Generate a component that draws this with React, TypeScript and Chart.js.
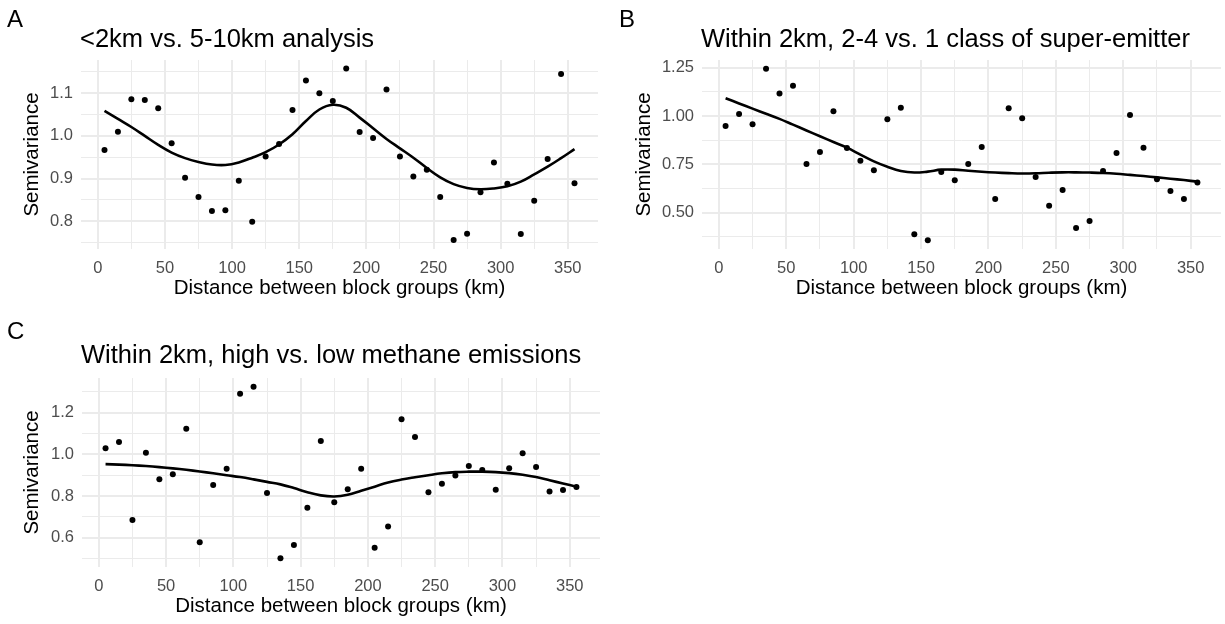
import React, { useEffect, useRef } from "react";
import { Chart, registerables } from "chart.js";

Chart.register(...registerables);

// ---------- data ----------
const distances = [5, 15, 25, 35, 45, 55, 65, 75, 85, 95, 105, 115, 125, 135, 145, 155, 165, 175, 185, 195, 205, 215, 225, 235, 245, 255, 265, 275, 285, 295, 305, 315, 325, 335, 345, 355];

const semivarA = [0.967, 1.010, 1.086, 1.084, 1.065, 0.983, 0.902, 0.857, 0.824, 0.826, 0.895, 0.799, 0.952, 0.981, 1.061, 1.130, 1.100, 1.082, 1.158, 1.009, 0.995, 1.109, 0.952, 0.905, 0.921, 0.857, 0.756, 0.771, 0.868, 0.938, 0.888, 0.770, 0.848, 0.946, 1.145, 0.889];
const smoothA = [1.059, 1.040, 1.021, 1.000, 0.979, 0.961, 0.948, 0.939, 0.933, 0.932, 0.938, 0.949, 0.962, 0.980, 1.004, 1.035, 1.062, 1.073, 1.066, 1.043, 1.018, 0.993, 0.971, 0.949, 0.925, 0.903, 0.887, 0.878, 0.875, 0.877, 0.882, 0.893, 0.910, 0.928, 0.948, 0.969];

const semivarB = [0.948, 1.010, 0.957, 1.245, 1.116, 1.157, 0.751, 0.813, 1.024, 0.834, 0.768, 0.719, 0.983, 1.043, 0.387, 0.356, 0.710, 0.667, 0.751, 0.839, 0.570, 1.040, 0.988, 0.684, 0.535, 0.617, 0.420, 0.456, 0.715, 0.808, 1.005, 0.836, 0.672, 0.611, 0.570, 0.656];
const smoothB = [1.092, 1.065, 1.038, 1.012, 0.985, 0.955, 0.925, 0.895, 0.865, 0.836, 0.800, 0.765, 0.737, 0.715, 0.707, 0.712, 0.722, 0.722, 0.716, 0.711, 0.707, 0.704, 0.702, 0.703, 0.706, 0.708, 0.708, 0.707, 0.705, 0.701, 0.695, 0.689, 0.682, 0.675, 0.668, 0.660];

const semivarC = [1.029, 1.060, 0.685, 1.008, 0.880, 0.904, 1.123, 0.578, 0.853, 0.931, 1.291, 1.325, 0.814, 0.501, 0.565, 0.744, 1.064, 0.770, 0.832, 0.931, 0.552, 0.653, 1.169, 1.083, 0.818, 0.859, 0.899, 0.944, 0.925, 0.830, 0.934, 1.005, 0.939, 0.822, 0.829, 0.843];
const smoothC = [0.953, 0.951, 0.948, 0.944, 0.939, 0.933, 0.926, 0.918, 0.909, 0.900, 0.891, 0.880, 0.868, 0.856, 0.838, 0.818, 0.803, 0.798, 0.806, 0.825, 0.845, 0.865, 0.879, 0.890, 0.900, 0.909, 0.915, 0.917, 0.917, 0.915, 0.910, 0.902, 0.891, 0.876, 0.860, 0.845];

const xMajorTicks = [0, 50, 100, 150, 200, 250, 300, 350];
const xMinorTicks = [25, 75, 125, 175, 225, 275, 325];

const yMajorA = [0.8, 0.9, 1.0, 1.1];
const yMinorA = [0.75, 0.85, 0.95, 1.05, 1.15];
const yLabelsA = ["0.8", "0.9", "1.0", "1.1"];

const yMajorB = [0.5, 0.75, 1.0, 1.25];
const yMinorB = [0.375, 0.625, 0.875, 1.125];
const yLabelsB = ["0.50", "0.75", "1.00", "1.25"];

const yMajorC = [0.6, 0.8, 1.0, 1.2];
const yMinorC = [0.5, 0.7, 0.9, 1.1, 1.3];
const yLabelsC = ["0.6", "0.8", "1.0", "1.2"];

const xTitle = "Distance between block groups (km)";
const yTitle = "Semivariance";

const FONT = "'Liberation Sans', Arial, Helvetica, sans-serif";
const GRID = "#EBEBEB";

type PanelCfg = {
  letter: string;
  title: string;
  values: number[];
  smooth: number[];
  yMajor: number[];
  yMinor: number[];
  yLabels: string[];
  yMin: number;
  yMax: number;
  left: number;
  top: number;
  width: number;
  height: number;
  padTop: number;
  padRight: number;
  yAxisWidth: number;
  xAxisHeight: number;
  titleGap: number;
};

const panels: PanelCfg[] = [
  {
    letter: "A", title: "<2km vs. 5-10km analysis", values: semivarA, smooth: smoothA,
    yMajor: yMajorA, yMinor: yMinorA, yLabels: yLabelsA, yMin: 0.735, yMax: 1.178,
    left: 0, top: 0, width: 612, height: 312, padTop: 60, padRight: 14, yAxisWidth: 81, xAxisHeight: 63, titleGap: 13,
  },
  {
    letter: "B", title: "Within 2km, 2-4 vs. 1 class of super-emitter", values: semivarB, smooth: smoothB,
    yMajor: yMajorB, yMinor: yMinorB, yLabels: yLabelsB, yMin: 0.311, yMax: 1.29,
    left: 612, top: 0, width: 613, height: 312, padTop: 60, padRight: 4, yAxisWidth: 90, xAxisHeight: 63, titleGap: 13,
  },
  {
    letter: "C", title: "Within 2km, high vs. low methane emissions", values: semivarC, smooth: smoothC,
    yMajor: yMajorC, yMinor: yMinorC, yLabels: yLabelsC, yMin: 0.459, yMax: 1.367,
    left: 0, top: 312, width: 612, height: 312, padTop: 66, padRight: 12, yAxisWidth: 82, xAxisHeight: 57, titleGap: 15,
  },
];

const near = (a: number, b: number) => Math.abs(a - b) < 1e-6;

function Panel({ cfg }: { cfg: PanelCfg }) {
  const ref = useRef<HTMLCanvasElement | null>(null);

  useEffect(() => {
    if (!ref.current) return;
    const isMajorY = (v: number) => cfg.yMajor.some((m) => near(m, v));
    const isMajorX = (v: number) => xMajorTicks.some((m) => near(m, v));

    const textPlugin = {
      id: "panelText",
      afterDraw(chart: any) {
        const { ctx, chartArea } = chart;
        ctx.save();
        ctx.fillStyle = "#000";
        ctx.textBaseline = "alphabetic";
        // panel letter
        ctx.font = `24px ${FONT}`;
        ctx.textAlign = "left";
        ctx.fillText(cfg.letter, 7, 27);
        // title
        ctx.font = `25.5px ${FONT}`;
        ctx.fillText(cfg.title, chartArea.left - 1, chartArea.top - cfg.titleGap);
        // x title
        ctx.font = `20.5px ${FONT}`;
        ctx.textAlign = "center";
        ctx.fillText(xTitle, (chartArea.left + chartArea.right) / 2, chartArea.bottom + 45);
        // y title
        ctx.translate(38, (chartArea.top + chartArea.bottom) / 2);
        ctx.rotate(-Math.PI / 2);
        ctx.fillText(yTitle, 0, 0);
        ctx.restore();
      },
    };

    const chart = new Chart(ref.current, {
      type: "scatter",
      data: {
        datasets: [
          {
            type: "scatter",
            data: distances.map((d, i) => ({ x: d, y: cfg.values[i] })),
            pointRadius: 3,
            pointHoverRadius: 3,
            backgroundColor: "#000",
            borderColor: "#000",
            borderWidth: 0,
            order: 2,
          },
          {
            type: "line",
            data: distances.map((d, i) => ({ x: d, y: cfg.smooth[i] })),
            borderColor: "#000",
            borderWidth: 2.6,
            pointRadius: 0,
            tension: 0.4,
            fill: false,
            order: 1,
          } as any,
        ],
      },
      options: {
        animation: false,
        responsive: false,
        maintainAspectRatio: false,
        events: [],
        layout: { padding: { top: cfg.padTop, right: cfg.padRight, left: 0, bottom: 0 } },
        plugins: { legend: { display: false }, title: { display: false }, tooltip: { enabled: false } },
        scales: {
          x: {
            type: "linear",
            min: -12.5,
            max: 372.5,
            afterBuildTicks: (scale: any) => {
              scale.ticks = [...xMajorTicks, ...xMinorTicks].sort((a, b) => a - b).map((v) => ({ value: v }));
            },
            afterFit: (scale: any) => {
              scale.height = cfg.xAxisHeight;
            },
            border: { display: false },
            grid: {
              drawTicks: false,
              color: GRID,
              lineWidth: (ctx: any) => (ctx.tick && isMajorX(ctx.tick.value) ? 2 : 1),
            },
            ticks: {
              autoSkip: false,
              maxRotation: 0,
              padding: 10,
              color: "#4D4D4D",
              font: { family: FONT, size: 16.5 },
              callback: (v: any) => {
                const n = Number(v);
                return isMajorX(n) ? String(n) : "";
              },
            },
          },
          y: {
            type: "linear",
            min: cfg.yMin,
            max: cfg.yMax,
            afterBuildTicks: (scale: any) => {
              scale.ticks = [...cfg.yMajor, ...cfg.yMinor].sort((a, b) => a - b).map((v) => ({ value: v }));
            },
            afterFit: (scale: any) => {
              scale.width = cfg.yAxisWidth;
            },
            border: { display: false },
            grid: {
              drawTicks: false,
              color: GRID,
              lineWidth: (ctx: any) => (ctx.tick && isMajorY(ctx.tick.value) ? 2 : 1),
            },
            ticks: {
              autoSkip: false,
              padding: 8,
              color: "#4D4D4D",
              font: { family: FONT, size: 16.5 },
              callback: (v: any) => {
                const n = Number(v);
                const idx = cfg.yMajor.findIndex((m) => near(m, n));
                return idx >= 0 ? cfg.yLabels[idx] : "";
              },
            },
          },
        },
      },
      plugins: [textPlugin],
    } as any);

    return () => chart.destroy();
  }, [cfg]);

  return (
    <canvas
      ref={ref}
      width={cfg.width}
      height={cfg.height}
      style={{ position: "absolute", left: cfg.left, top: cfg.top, width: cfg.width, height: cfg.height }}
    />
  );
}

export default function App() {
  return (
    <div style={{ position: "absolute", left: 0, top: 0, width: 1225, height: 624, background: "#fff" }}>
      {panels.map((p) => (
        <Panel key={p.letter} cfg={p} />
      ))}
    </div>
  );
}
